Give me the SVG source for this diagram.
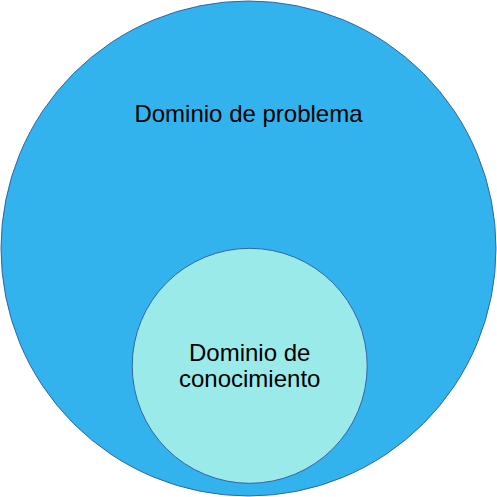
<svg xmlns="http://www.w3.org/2000/svg" width="497" height="497" viewBox="0 0 497 497">
<style>
.lbl{font-family:"Liberation Sans",Arial,sans-serif;font-size:24px;fill:#000;text-anchor:middle}
</style>
<rect width="497" height="497" fill="#fff"/>
<g id="problema">
<circle cx="248.5" cy="248.5" r="247.5" fill="#33b3ee" stroke="#3465a4" stroke-width="1"/>
<text class="lbl" x="248.5" y="122">Dominio de problema</text>
</g>
<g id="conocimiento">
<circle cx="249.7" cy="365.8" r="117.5" fill="#9beaea" stroke="#3465a4" stroke-width="1"/>
<text class="lbl" x="249.7" y="361">Dominio de</text>
<text class="lbl" x="249.7" y="387">conocimiento</text>
</g>
<g id="connectors"/>
</svg>
